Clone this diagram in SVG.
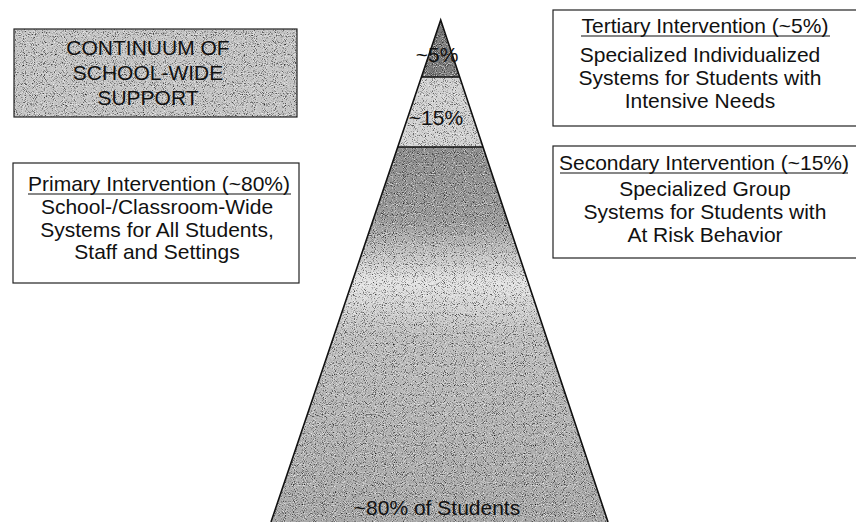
<svg xmlns="http://www.w3.org/2000/svg" width="856" height="522" viewBox="0 0 856 522">
<style>
  .t { font-family: "Liberation Sans", Arial, sans-serif; font-size: 21px; fill: #111; text-anchor: middle; }
  .box { fill: #fff; stroke: #222; stroke-width: 1.2; }
  .edge { stroke: #111; stroke-width: 1.6; fill: none; }
  .ul { stroke: #111; stroke-width: 1.2; }
</style>
<defs>
  <linearGradient id="g80" x1="0" y1="147" x2="0" y2="522" gradientUnits="userSpaceOnUse">
    <stop offset="0" stop-color="#8e8e8e"/>
    <stop offset="0.2" stop-color="#9c9c9c"/>
    <stop offset="0.36" stop-color="#e4e4e4"/>
    <stop offset="0.5" stop-color="#bfbfbf"/>
    <stop offset="1" stop-color="#a8a8a8"/>
  </linearGradient>
  <filter id="grain" x="0%" y="0%" width="100%" height="100%" color-interpolation-filters="sRGB">
    <feTurbulence type="fractalNoise" baseFrequency="1.1" numOctaves="1" seed="7" result="n"/>
    <feColorMatrix in="n" type="matrix" values="0 0 0 0 0  0 0 0 0 0  0 0 0 0 0  3 0 0 0 -1.62" result="dark"/>
    <feComposite in="dark" in2="SourceGraphic" operator="in" result="d2"/>
    <feColorMatrix in="n" type="matrix" values="0 0 0 0 1  0 0 0 0 1  0 0 0 0 1  -3 0 0 0 1.38" result="light"/>
    <feComposite in="light" in2="SourceGraphic" operator="in" result="l2"/>
    <feMerge><feMergeNode in="SourceGraphic"/><feMergeNode in="d2"/><feMergeNode in="l2"/></feMerge>
  </filter>
</defs>
<rect width="856" height="522" fill="#fff"/>
<g id="title">
  <rect x="14" y="29" width="283" height="88" fill="#c4c4c4" filter="url(#grain)"/>
  <rect x="14" y="29" width="283" height="88" fill="none" stroke="#222" stroke-width="1.2"/>
  <text class="t" x="148" y="55">CONTINUUM OF</text>
  <text class="t" x="148" y="80">SCHOOL-WIDE</text>
  <text class="t" x="148" y="105">SUPPORT</text>
</g>
<g id="pyramid">
  <g filter="url(#grain)">
    <polygon points="421.5,77 460,77 483,147 398,147" fill="#d2d2d2"/>
    <polygon points="398,147 483,147 608,522 271,522" fill="url(#g80)"/>
    <polygon points="440.7,20 460,77 421.5,77" fill="#7c7c7c"/>
  </g>
  <polyline class="edge" points="271,522 440.7,20 608,522"/>
  <line class="edge" x1="421.5" y1="77" x2="460" y2="77"/>
  <line class="edge" x1="398" y1="147" x2="483" y2="147"/>
  <text class="t" x="437" y="62">~5%</text>
  <text class="t" x="436" y="125">~15%</text>
  <text class="t" x="437" y="515">~80% of Students</text>
</g>
<g id="tertiary">
  <rect class="box" x="553" y="10" width="320" height="116"/>
  <text class="t" x="705" y="33">Tertiary Intervention (~5%)</text>
  <line class="ul" x1="581" y1="36" x2="830" y2="36"/>
  <text class="t" x="700" y="62">Specialized Individualized</text>
  <text class="t" x="700" y="85">Systems for Students with</text>
  <text class="t" x="700" y="108">Intensive Needs</text>
</g>
<g id="secondary">
  <rect class="box" x="553" y="146" width="320" height="112"/>
  <text class="t" x="704" y="170">Secondary Intervention (~15%)</text>
  <line class="ul" x1="560" y1="173" x2="848" y2="173"/>
  <text class="t" x="705" y="196">Specialized Group</text>
  <text class="t" x="705" y="219">Systems for Students with</text>
  <text class="t" x="705" y="242">At Risk Behavior</text>
</g>
<g id="primary">
  <rect class="box" x="13" y="163" width="286" height="120"/>
  <text class="t" x="159" y="191">Primary Intervention (~80%)</text>
  <line class="ul" x1="28" y1="194" x2="291" y2="194"/>
  <text class="t" x="157" y="214">School-/Classroom-Wide</text>
  <text class="t" x="157" y="237">Systems for All Students,</text>
  <text class="t" x="157" y="259">Staff and Settings</text>
</g>
<g id="connectors"></g>
</svg>
